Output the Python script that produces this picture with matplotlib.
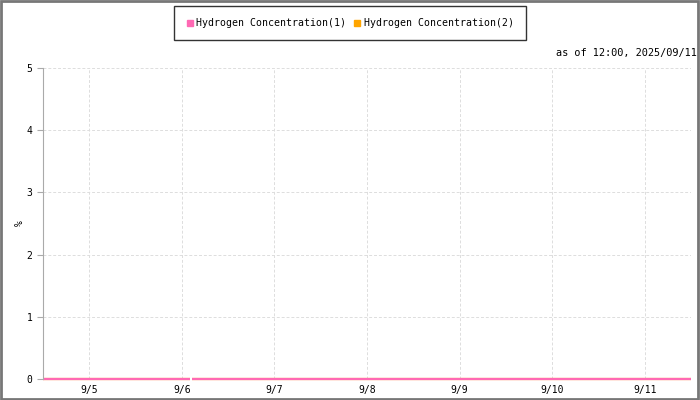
import pandas as pd
import numpy as np
import matplotlib.pyplot as plt
from matplotlib.lines import Line2D
from matplotlib.patches import Rectangle

# readings (all at 0 %, short gap early on 9/6)
times = ["2025-09-04 12:00", "2025-09-06 02:10", "2025-09-06 02:20",
         "2025-09-06 02:30", "2025-09-11 12:00"]
h2_1 = [0.0, 0.0, np.nan, 0.0, 0.0]
h2_2 = [0.0, 0.0, np.nan, 0.0, 0.0]
series_names = ["Hydrogen Concentration(1)", "Hydrogen Concentration(2)"]
series_colors = ["#ff69b4", "#ffa500"]
tick_days = ["2025-09-05", "2025-09-06", "2025-09-07", "2025-09-08",
             "2025-09-09", "2025-09-10", "2025-09-11"]
tick_labels = ["9/5", "9/6", "9/7", "9/8", "9/9", "9/10", "9/11"]
y_ticks = [0, 1, 2, 3, 4, 5]
stamp = "as of 12:00, 2025/09/11"

plt.rcParams['font.family'] = ['DejaVu Sans Mono']

t = pd.to_datetime(times)
fig = plt.figure(figsize=(7, 4), dpi=100)
ax = fig.add_axes([43/700, 1 - 379/400, 648/700, 311/400])

ax.plot(t, h2_2, color=series_colors[1], lw=1.6, solid_capstyle='butt', clip_on=False)
ax.plot(t, h2_1, color=series_colors[0], lw=1.6, solid_capstyle='butt', clip_on=False)

ax.set_xlim(t[0], t[-1])
ax.set_ylim(0, 5)
ax.set_xticks(pd.to_datetime(tick_days))
ax.set_xticklabels(tick_labels)
ax.set_yticks(y_ticks)
ax.tick_params(labelsize=7, labelcolor='black', length=4, width=0.8, color='#aaaaaa')
ax.tick_params(axis='x', length=0, pad=4)
ax.grid(True, color='#dddddd', ls=(0, (3, 2)), lw=0.7)
for s in ['top', 'right', 'bottom']:
    ax.spines[s].set_visible(False)
ax.spines['left'].set_color('#aaaaaa')

fig.text(20/700, 1 - 223/400, "%", rotation=90, ha='center', va='center', fontsize=7)

handles = [Line2D([], [], ls='none', marker='s', ms=5, color=c) for c in series_colors]
leg = fig.legend(handles, series_names, loc='center', bbox_to_anchor=(350/700, 1 - 23/400),
                 ncol=2, fontsize=7.1, frameon=True, fancybox=False, handlelength=0.7,
                 handletextpad=0.3, columnspacing=0.8, borderpad=1.2, edgecolor='black')
leg.get_frame().set_linewidth(1.0)

fig.text(697/700, 1 - 53/400, stamp, ha='right', va='center', fontsize=7.4)

fig.patches.append(Rectangle((0.0015, 0.0025), 0.996, 0.995, transform=fig.transFigure,
                             fill=False, edgecolor='#777777', lw=2))

fig.savefig("out.png", dpi=100)
